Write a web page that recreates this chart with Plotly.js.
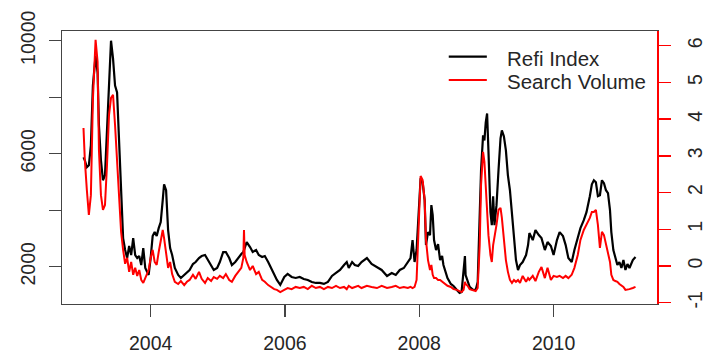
<!DOCTYPE html>
<html>
<head>
<meta charset="utf-8">
<script src="https://cdn.plot.ly/plotly-3.0.1.min.js"></script>
<style>html,body{margin:0;padding:0;background:#fff}#chart{width:717px;height:354px}</style>
</head>
<body>
<div id="chart"></div>
<script>
const years = [2003.00,2003.02,2003.05,2003.08,2003.11,2003.14,2003.18,2003.21,2003.23,2003.26,2003.29,2003.32,2003.35,2003.38,2003.41,2003.44,2003.47,2003.50,2003.53,2003.56,2003.59,2003.62,2003.65,2003.68,2003.71,2003.74,2003.77,2003.80,2003.83,2003.86,2003.89,2003.92,2003.95,2003.97,2004.00,2004.03,2004.06,2004.09,2004.12,2004.15,2004.18,2004.20,2004.23,2004.26,2004.29,2004.32,2004.36,2004.41,2004.45,2004.50,2004.54,2004.58,2004.63,2004.67,2004.72,2004.76,2004.81,2004.85,2004.90,2004.94,2004.99,2005.03,2005.08,2005.12,2005.17,2005.21,2005.26,2005.30,2005.35,2005.38,2005.39,2005.40,2005.43,2005.48,2005.52,2005.57,2005.61,2005.66,2005.70,2005.75,2005.79,2005.84,2005.88,2005.93,2005.99,2006.04,2006.10,2006.16,2006.22,2006.28,2006.34,2006.40,2006.46,2006.52,2006.58,2006.64,2006.70,2006.76,2006.82,2006.88,2006.92,2006.95,2007.00,2007.04,2007.09,2007.14,2007.22,2007.29,2007.37,2007.44,2007.52,2007.59,2007.65,2007.71,2007.77,2007.83,2007.87,2007.90,2007.93,2007.96,2007.99,2008.02,2008.05,2008.08,2008.10,2008.13,2008.16,2008.18,2008.20,2008.22,2008.25,2008.28,2008.31,2008.34,2008.36,2008.39,2008.42,2008.47,2008.51,2008.56,2008.60,2008.63,2008.66,2008.68,2008.69,2008.72,2008.75,2008.80,2008.84,2008.87,2008.90,2008.92,2008.95,2008.97,2008.99,2009.01,2009.03,2009.06,2009.08,2009.10,2009.12,2009.15,2009.18,2009.21,2009.23,2009.26,2009.29,2009.32,2009.35,2009.38,2009.41,2009.44,2009.47,2009.50,2009.54,2009.59,2009.62,2009.64,2009.69,2009.73,2009.78,2009.82,2009.87,2009.91,2009.96,2010.00,2010.05,2010.09,2010.14,2010.18,2010.22,2010.27,2010.31,2010.36,2010.40,2010.45,2010.49,2010.54,2010.57,2010.60,2010.63,2010.66,2010.69,2010.72,2010.75,2010.78,2010.81,2010.84,2010.86,2010.89,2010.92,2010.95,2010.98,2011.01,2011.04,2011.07,2011.10,2011.13,2011.18,2011.22];

const refiIndex = [5870,5766,5519,5589,6295,8412,9471,8871,7001,5766,5060,5236,6824,8236,10000,9365,8412,8165,6471,4354,3013,2590,2307,2731,2413,3013,2413,2307,2378,2060,2660,1954,1813,1707,2307,3084,3225,3084,3366,3578,4354,4919,4707,3295,2660,2413,1954,1707,1601,1707,1813,1884,2096,2166,2307,2378,2413,2237,2060,1884,1954,2166,2519,2519,2307,2060,2166,2307,2448,2519,2590,2731,2872,2695,2519,2590,2413,2342,2378,2166,1954,1707,1531,1355,1637,1743,1637,1601,1637,1566,1531,1460,1425,1425,1390,1460,1672,1778,1884,2060,2166,1954,2166,2060,2025,2166,2307,2096,1990,1884,1672,1778,1707,1884,1954,2166,2307,2942,2166,2590,4001,5130,4989,4354,2766,3225,3119,4178,3825,2942,2590,2801,2237,2378,2060,1813,1601,1390,1319,1178,1072,1107,1884,2378,1707,1460,1284,1178,1178,1460,3472,5413,6648,6471,7107,7424,6118,3930,3472,4495,3472,4178,5413,6542,6824,6613,6118,5236,4707,3930,2942,2237,1884,2060,2166,2413,2766,3190,2942,3295,3119,3013,2590,2872,2731,2413,2942,3225,3084,2766,2307,2166,2590,3013,3366,3648,3930,4495,4919,5060,4989,4495,4530,5060,4954,4707,4601,4001,3225,2590,2307,2060,2166,1954,2237,1884,2096,1954,2237,2342];

const searchVolume = [3.76,2.89,2.07,1.39,1.93,4.52,6.16,5.56,3.16,1.93,1.53,1.66,2.75,4.11,4.58,4.66,3.84,2.89,1.80,0.93,0.44,0.06,0.22,-0.16,0.11,-0.24,-0.05,-0.27,-0.11,-0.38,-0.46,-0.33,-0.24,-0.11,0.22,0.44,0.11,0.03,0.38,0.71,0.98,0.76,0.30,-0.05,0.11,-0.22,-0.43,-0.49,-0.41,-0.52,-0.43,-0.38,-0.24,-0.35,-0.16,-0.35,-0.46,-0.33,-0.41,-0.30,-0.35,-0.27,-0.33,-0.22,-0.38,-0.43,-0.27,-0.16,-0.05,0.22,0.98,0.30,0.11,-0.11,0.00,-0.22,-0.16,-0.38,-0.43,-0.52,-0.57,-0.63,-0.65,-0.71,-0.65,-0.60,-0.63,-0.57,-0.60,-0.57,-0.63,-0.54,-0.60,-0.57,-0.63,-0.57,-0.60,-0.54,-0.60,-0.57,-0.63,-0.54,-0.60,-0.57,-0.54,-0.60,-0.54,-0.57,-0.60,-0.54,-0.60,-0.57,-0.54,-0.60,-0.57,-0.60,-0.57,-0.60,-0.57,-0.38,0.98,2.45,2.34,1.80,0.71,0.16,-0.11,0.03,-0.24,-0.33,-0.33,-0.38,-0.38,-0.43,-0.46,-0.49,-0.54,-0.57,-0.63,-0.65,-0.68,-0.71,-0.65,-0.43,-0.49,-0.54,-0.63,-0.65,-0.68,-0.60,0.57,2.21,3.11,2.84,2.07,1.66,0.84,0.30,0.11,0.57,0.76,1.12,1.53,1.58,1.31,0.65,0.16,-0.16,-0.38,-0.46,-0.38,-0.43,-0.38,-0.46,-0.27,-0.43,-0.33,-0.38,-0.27,-0.41,-0.16,-0.03,-0.33,-0.05,-0.38,-0.27,-0.30,-0.27,-0.33,-0.27,-0.33,-0.24,-0.05,0.30,0.71,0.98,1.12,1.31,1.47,1.47,1.53,1.12,0.49,0.93,0.84,0.57,0.38,0.11,-0.24,-0.38,-0.41,-0.43,-0.49,-0.52,-0.57,-0.65,-0.65,-0.63,-0.60,-0.57];

const xTickVals = [2004, 2006, 2008, 2010];
const xTickText = ['2004', '2006', '2008', '2010'];
const yTickVals = [2000, 4000, 6000, 8000, 10000];
const yTickText = ['2000', '', '6000', '', '10000'];
const y2TickVals = [-1, 0, 1, 2, 3, 4, 5, 6];
const y2TickText = ['-1', '0', '1', '2', '3', '4', '5', '6'];
const seriesNames = ['Refi Index', 'Search Volume'];

const FONT = 'Liberation Sans, Arial, sans-serif';
const TXT = '#262626';

const traces = [
  {x: years, y: refiIndex, name: seriesNames[0], type: 'scatter', mode: 'lines',
   line: {color: '#000000', width: 2.2}, yaxis: 'y', showlegend: false},
  {x: years, y: searchVolume, name: seriesNames[1], type: 'scatter', mode: 'lines',
   line: {color: '#ff0000', width: 2}, yaxis: 'y2', showlegend: false}
];

const layout = {
  width: 717, height: 354,
  margin: {l: 62, r: 60, t: 31, b: 50},
  paper_bgcolor: '#ffffff', plot_bgcolor: '#ffffff',
  font: {family: FONT, size: 19.5, color: TXT},
  showlegend: false,
  xaxis: {range: [2002.68, 2011.54], tickvals: xTickVals, ticktext: xTickText,
    showgrid: false, zeroline: false, showline: true, mirror: true,
    linecolor: '#444', linewidth: 1.2, ticks: 'outside', ticklen: 12, tickcolor: '#444',
    tickwidth: 1.2, ticklabelstandoff: 9, tickfont: {size: 19.5, color: TXT}},
  yaxis: {range: [680, 10343], tickvals: yTickVals, ticktext: yTickText,
    showgrid: false, zeroline: false, showline: true, linecolor: '#444', linewidth: 1.2,
    ticks: 'outside', ticklen: 12, tickcolor: '#444', tickwidth: 1.2, tickangle: -90,
    ticklabelstandoff: 6, tickfont: {size: 19.5, color: TXT}},
  yaxis2: {range: [-1.035, 6.40], overlaying: 'y', side: 'right', tickvals: y2TickVals,
    ticktext: y2TickText, showgrid: false, zeroline: false, showline: true,
    linecolor: '#ff0000', linewidth: 1.5, ticks: 'outside', ticklen: 12, tickcolor: '#ff0000',
    tickwidth: 1.5, tickangle: -90, ticklabelstandoff: 8, tickfont: {size: 19.5, color: TXT}},
  shapes: [
    {type: 'line', xref: 'paper', yref: 'paper', x0: 0.650, x1: 0.714, y0: 0.906, y1: 0.906,
     line: {color: '#000000', width: 2.2}},
    {type: 'line', xref: 'paper', yref: 'paper', x0: 0.650, x1: 0.714, y0: 0.8205, y1: 0.8205,
     line: {color: '#ff0000', width: 2}}
  ],
  annotations: [
    {xref: 'paper', yref: 'paper', x: 0.745, y: 0.900, xanchor: 'left', yanchor: 'middle',
     text: seriesNames[0], showarrow: false, font: {size: 20.5, color: TXT}},
    {xref: 'paper', yref: 'paper', x: 0.745, y: 0.8145, xanchor: 'left', yanchor: 'middle',
     text: seriesNames[1], showarrow: false, font: {size: 20.5, color: TXT}}
  ]
};

Plotly.newPlot('chart', traces, layout, {displayModeBar: false, staticPlot: true});
</script>
</body>
</html>
